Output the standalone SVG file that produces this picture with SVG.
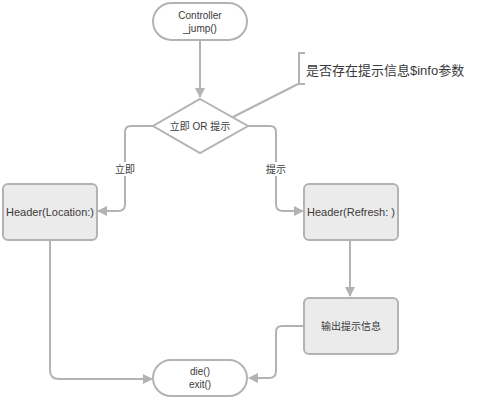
<svg xmlns="http://www.w3.org/2000/svg" width="479" height="401" viewBox="0 0 479 401">
<style>
.n{stroke:#b3b3b3;stroke-width:2;fill:#ffffff}
.b{stroke:#b3b3b3;stroke-width:2;fill:#ebebeb}
.c{stroke:#b3b3b3;stroke-width:2;fill:none}
text{font-family:"Liberation Sans","Noto Sans CJK SC",sans-serif;font-size:10px;fill:#3a3a3a;text-anchor:middle}
.h{font-size:11px}
.lbl{fill:#fff;stroke:none}
</style>
<defs>
<marker id="ah" viewBox="0 0 10 10" refX="9" refY="5" markerWidth="10" markerHeight="10" markerUnits="userSpaceOnUse" orient="auto">
<path d="M0,0 L10,5 L0,10 z" fill="#b3b3b3"/>
</marker>
</defs>
<rect width="479" height="401" fill="#fff"/>
<g id="connectors">
<path class="c" d="M200,41 L200,97" marker-end="url(#ah)"/>
<path class="c" d="M153,126 L131,126 Q125,126 125,132 L125,204 Q125,211 118,211 L98,211" marker-end="url(#ah)"/>
<path class="c" d="M247,126 L270,126 Q276,126 276,132 L276,204 Q276,211 283,211 L303,211" marker-end="url(#ah)"/>
<path class="c" d="M350,241 L350,296" marker-end="url(#ah)"/>
<path class="c" d="M303,326 L282,326 Q276,326 276,332 L276,371 Q276,378 269,378 L249,378" marker-end="url(#ah)"/>
<path class="c" d="M50,241 L50,370 Q50,379 59,379 L152,379" marker-end="url(#ah)"/>
<path class="c" d="M233,117 L298,84"/>
<path class="c" d="M305,53 L299,53 L299,84 L305,84"/>
<rect class="lbl" x="113" y="162" width="24" height="14"/>
<text x="125" y="173">立即</text>
<rect class="lbl" x="264" y="162" width="24" height="14"/>
<text x="276" y="173">提示</text>
</g>
<g id="controller">
<rect class="n" x="153" y="3" width="94" height="37" rx="18.5"/>
<text x="200" y="19">Controller</text>
<text x="200" y="32">_jump()</text>
</g>
<g id="decision">
<path class="n" d="M200,99 L248,126 L200,153 L153,126 z"/>
<text x="200" y="130">立即 OR 提示</text>
</g>
<g id="note">
<text x="306" y="75" style="text-anchor:start;font-size:13px">是否存在提示信息$info参数</text>
</g>
<g id="header-location">
<rect class="b" x="3" y="184" width="94" height="56" rx="5"/>
<text class="h" x="50" y="216">Header(Location:)</text>
</g>
<g id="header-refresh">
<rect class="b" x="304" y="184" width="94" height="56" rx="5"/>
<text class="h" x="351" y="216">Header(Refresh: )</text>
</g>
<g id="output">
<rect class="b" x="304" y="298" width="94" height="56" rx="5"/>
<text x="351" y="330">输出提示信息</text>
</g>
<g id="die">
<rect class="n" x="153" y="360" width="94" height="36" rx="18"/>
<text x="200" y="375">die()</text>
<text x="200" y="388">exit()</text>
</g>
</svg>
